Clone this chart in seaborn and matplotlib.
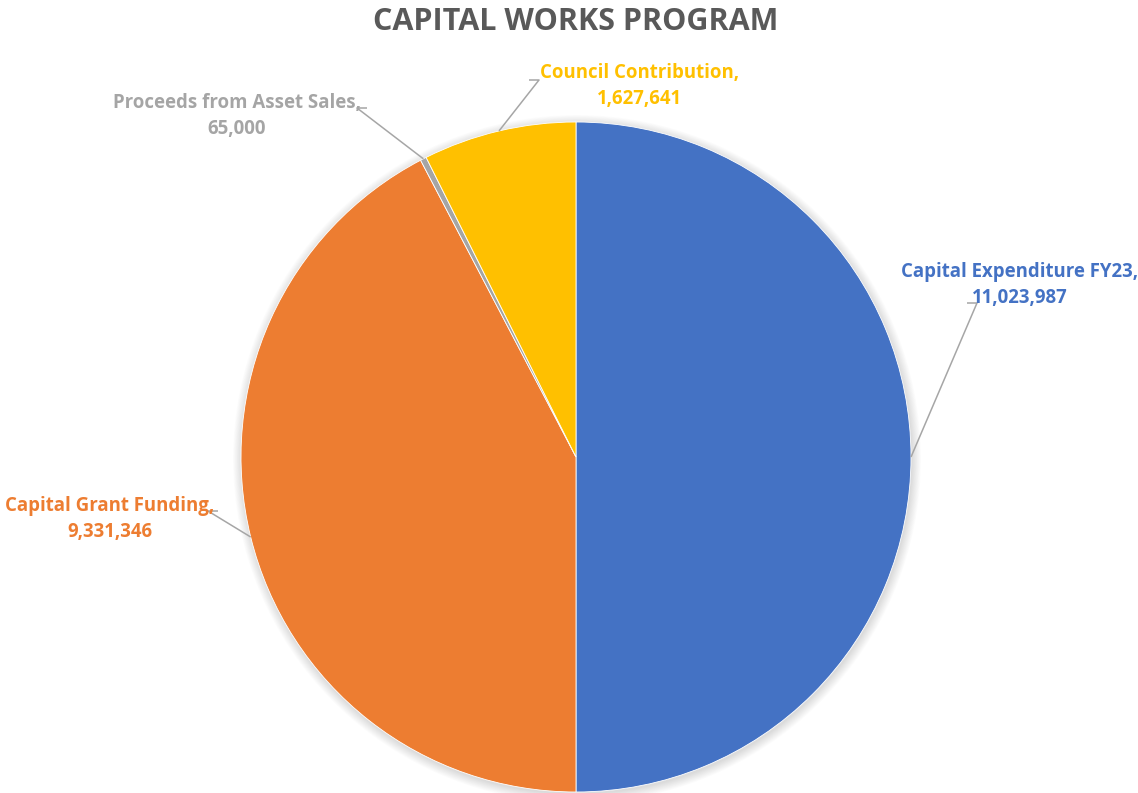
import numpy as np
import matplotlib
matplotlib.use("Agg")
import matplotlib.pyplot as plt
import seaborn as sns
from matplotlib.patches import Circle

sns.set_theme(style="white")
plt.rcParams['font.family'] = ['Open Sans', 'DejaVu Sans']

# ---- data ----
title = "CAPITAL WORKS PROGRAM"
categories = ["Capital Expenditure FY23", "Capital Grant Funding",
              "Proceeds from Asset Sales", "Council Contribution"]
values = [11023987, 9331346, 65000, 1627641]
colors = ["#4472C4", "#ED7D31", "#A5A5A5", "#FFC000"]

# ---- layout (pixel space) ----
W, H = 1138, 793
cx, cy, R = 576, H - 457, 335
# label centre positions (pixels, y from top) and leader line text-side end
label_pos = {
    "Capital Expenditure FY23": (1020, 285),
    "Capital Grant Funding": (110, 519),
    "Proceeds from Asset Sales": (237, 116),
    "Council Contribution": (640, 86),
}
leader_end = {
    "Capital Expenditure FY23": (967, 303, +1),
    "Capital Grant Funding": (218, 511, -1),
    "Proceeds from Asset Sales": (367, 108, -1),
    "Council Contribution": (529, 80, +1),
}

fig = plt.figure(figsize=(W / 100, H / 100), dpi=100)
ax = fig.add_axes([0, 0, 1, 1])
ax.set_xlim(0, W)
ax.set_ylim(0, H)
ax.set_axis_off()

# soft shadow
for i in range(12):
    ax.add_patch(Circle((cx + 1, cy - 2), R + 9 - i * 0.8, color="black",
                        alpha=0.012, lw=0, zorder=0))

wedges, _ = ax.pie(values, colors=colors, startangle=90, counterclock=False,
                   center=(cx, cy), radius=R, frame=True,
                   wedgeprops=dict(edgecolor="white", linewidth=0.6))
ax.set_xlim(0, W)
ax.set_ylim(0, H)
ax.set_axis_off()

for w, cat, val, col in zip(wedges, categories, values, colors):
    mid = np.deg2rad((w.theta1 + w.theta2) / 2)
    px, py = cx + R * np.cos(mid), cy + R * np.sin(mid)
    ex, ey, side = leader_end[cat]
    ey = H - ey
    elbow_x = ex + side * 10
    ax.plot([px, elbow_x, ex], [py, ey, ey], color="#A6A6A6", lw=1.1,
            zorder=3, solid_capstyle="butt")
    tx, ty = label_pos[cat]
    ax.text(tx, H - ty, f"{cat},\n{val:,}", color=col, fontsize=13.4,
            fontweight="bold", ha="center", va="center", linespacing=1.42)

fig.text(576 / W, 1 - 22 / H, title, ha="center", va="center",
         fontsize=22, fontweight="bold", color="#595959")

fig.savefig("out.png", dpi=100, facecolor="white")
